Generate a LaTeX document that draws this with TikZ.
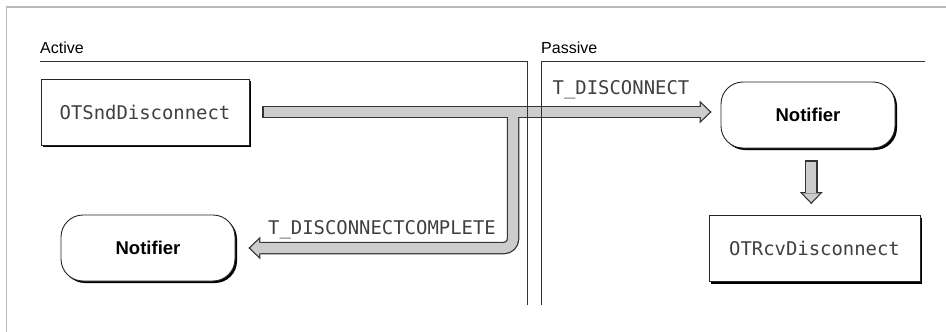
\documentclass[tikz,border=0pt]{standalone}
\usepackage{fontspec}
\setmainfont{Liberation Sans}
\newfontfamily\codefont{DejaVu Sans Mono}
\usetikzlibrary{arrows.meta,calc,shadows}

\tikzset{
  codebox/.style={draw=black!85, line width=0.9pt, fill=white, inner sep=0pt,
    minimum width=208pt, minimum height=66pt, text=black!75,
    font=\codefont\fontsize{18.9}{22}\selectfont,
    drop shadow={shadow xshift=2pt, shadow yshift=-2pt, opacity=1, fill=black}},
  notifier/.style={draw=black!85, line width=0.9pt, fill=white, rounded corners=22pt,
    minimum width=174pt, minimum height=66pt, inner sep=0pt,
    font=\bfseries\fontsize{18.5}{22}\selectfont,
    drop shadow={shadow xshift=2pt, shadow yshift=-2pt, opacity=1, fill=black}},
  lanetitle/.style={anchor=base west, inner sep=0pt, font=\fontsize{16}{19}\selectfont},
  lane/.style={draw=black!80, line width=0.9pt},
  msg/.style={inner sep=0pt, text=black!75, font=\codefont\fontsize{18.9}{22}\selectfont},
  flowedge/.style={line width=12.5pt, draw=black!80,
    -{Triangle[width=23pt, length=12pt, line width=0pt]}},
  flowfill/.style={line width=10pt, draw=black!20,
    -{Triangle[width=17.2pt, length=8.95pt, line width=0pt]}},
}

\begin{document}
\begin{tikzpicture}[x=1pt,y=-1pt]
    \useasboundingbox (0,0) rectangle (946,332);
    %frame
    \draw [color=black!27, line width=1.5pt] (6.5,332) -- (6.5,7) -- (946,7) ;

    %lane titles
    \node [lanetitle] (active) at (40,53.5) {Active};
    \node [lanetitle] (passive) at (541,53.5) {Passive};

    %boxes
    \node [codebox] (snd) at (145,112) {OTSndDisconnect};
    \node [notifier] (notifP) at (808,115) {Notifier};
    \node [codebox, minimum width=211pt] (rcv) at (814.5,248.5) {OTRcvDisconnect};
    \node [notifier] (notifA) at (148,248) {Notifier};

    %flows
    \coordinate (fork) at (513,112);
    \coordinate (drop) at ($(notifP.south)!0.5!(rcv.north)$);
    \draw [flowedge, shorten <=13pt, shorten >=9pt] (snd.east) -- (snd.east -| notifP.west) ;
    \draw [flowedge, rounded corners=9pt, shorten >=13pt] (fork) |- (notifA.east) ;
    \draw [flowedge, shorten <=12pt, shorten >=11pt] (drop |- notifP.south) -- (drop |- rcv.north) ;
    \draw [flowfill, shorten <=14.25pt, shorten >=10.8pt] (snd.east) -- (snd.east -| notifP.west) ;
    \draw [flowfill, rounded corners=9pt, shorten >=14.8pt] (fork) |- (notifA.east) ;
    \draw [flowfill, shorten <=13.25pt, shorten >=12.8pt] (drop |- notifP.south) -- (drop |- rcv.north) ;

    %messages
    \node [msg] (disc) at (621,90) {T\_DISCONNECT};
    \node [msg] (discComplete) at (382,230) {T\_DISCONNECTCOMPLETE};

    %lane lines
    \draw [lane] (active.base west |- 0,61.5) -- (527,61.5) -- (527,305) ;
    \draw [lane] (541,305) -- (541,61.5) -- (925,61.5) ;

\end{tikzpicture}
\end{document}
